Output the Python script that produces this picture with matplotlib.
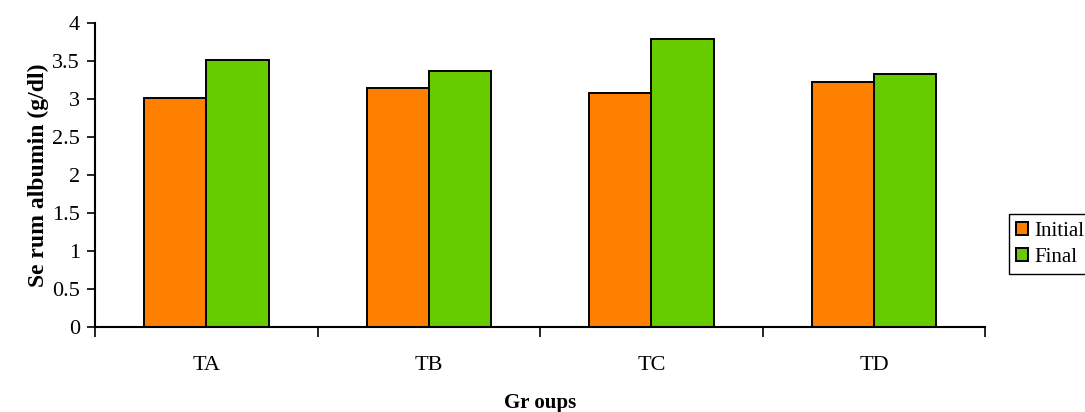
import matplotlib
matplotlib.use('Agg')
import matplotlib.pyplot as plt
import numpy as np

groups = ['TA', 'TB', 'TC', 'TD']
initial = [3.02, 3.15, 3.08, 3.22]
final = [3.52, 3.37, 3.79, 3.33]

plt.rcParams['font.family'] = ['Liberation Serif', 'DejaVu Serif']

fig = plt.figure(figsize=(10.85, 4.12), dpi=100)
ax = fig.add_axes([0.0876, 0.206, 0.8204, 0.738])

positions = np.arange(len(groups))
width = 0.28
ax.bar(positions - width / 2, initial, width, color='#FF8000', edgecolor='black',
       linewidth=1.4, label='Initial')
ax.bar(positions + width / 2, final, width, color='#66CC00', edgecolor='black',
       linewidth=1.4, label='Final')

ax.set_xlim(-0.5, len(groups) - 0.5)
ax.set_ylim(0, 4)
ax.set_yticks(np.arange(0, 4.01, 0.5))
ax.set_yticklabels(['0', '0.5', '1', '1.5', '2', '2.5', '3', '3.5', '4'])

# group names sit under the bars, ticks mark the boundaries between groups
ax.set_xticks(positions)
ax.set_xticklabels(groups)
ax.set_xticks(np.arange(-0.5, len(groups), 1.0), minor=True)
ax.tick_params(axis='x', which='major', length=0, pad=21, labelsize=16)
ax.tick_params(axis='x', which='minor', length=7, width=1.2, direction='out')
ax.tick_params(axis='y', length=6, width=1.2, labelsize=16, pad=5)

ax.spines['top'].set_visible(False)
ax.spines['right'].set_visible(False)
ax.spines['left'].set_linewidth(1.5)
ax.spines['bottom'].set_linewidth(1.5)

ax.set_xlabel('Gr oups', fontsize=15, fontweight='bold')
ax.xaxis.set_label_coords(0.5, -0.215)
ax.set_ylabel('Se rum albumin (g/dl)', fontsize=17, fontweight='bold', labelpad=2)

fig.legend(loc='upper left', bbox_to_anchor=(0.92, 0.505), fontsize=15,
           frameon=True, fancybox=False, edgecolor='black', framealpha=1,
           handlelength=0.6, handleheight=0.6, handletextpad=0.3,
           borderpad=0.35, labelspacing=0.35)

fig.savefig('out.png', dpi=100)
